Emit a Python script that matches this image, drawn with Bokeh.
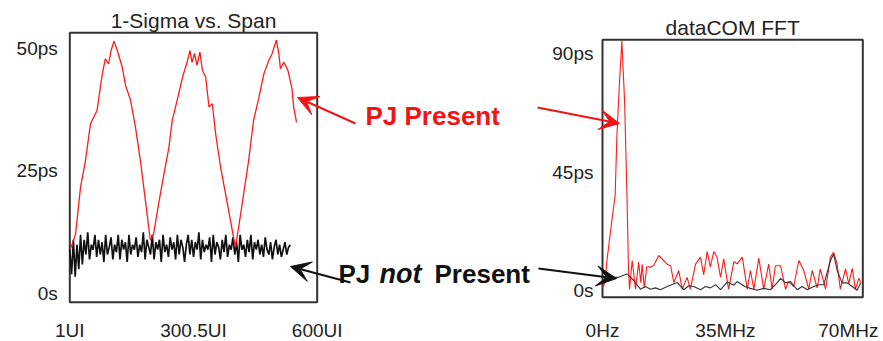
from bokeh.plotting import figure
from bokeh.models import Range1d, Label, Arrow, VeeHead
from bokeh.embed import file_html
from bokeh.resources import INLINE
from bokeh.core.properties import value
import numpy as np

# ---------------- 1-Sigma vs. Span ----------------
# PJ present: sigma (ps) against span (UI)
span_pj_ui = [3, 15, 27, 39, 51, 67, 79, 87, 95, 101, 108, 116, 128, 136, 148,
              160, 172, 184, 196, 204, 216, 229, 241, 249, 261, 274, 285, 292,
              297, 303, 309, 316, 322, 330, 338, 346, 354, 366, 378, 390, 402,
              410, 422, 434, 446, 459, 471, 483, 491, 501, 507, 511, 519, 529,
              539, 543, 550]
sigma_pj = [9.2, 12.2, 21.7, 27.1, 34.6, 37.3, 44.4, 47.8, 46.8, 49.5, 51.4,
            49.5, 46.1, 42.4, 39.4, 33.9, 27.1, 19.0, 10.9, 12.2, 18.3, 24.4,
            29.8, 35.3, 39.4, 44.1, 47.1, 49.5, 47.1, 48.9, 46.5, 49.2, 45.5,
            44.1, 38.0, 38.7, 32.6, 25.8, 20.4, 14.9, 9.5, 13.6, 20.4, 27.1,
            35.3, 40.0, 44.8, 47.5, 48.9, 51.6, 48.9, 45.8, 47.1, 45.5, 41.7,
            38.0, 34.9]

# PJ not present: sigma (ps), evenly sampled from 1UI to 535UI
sigma_nopj = [9, 4, 11, 3.5, 10, 5, 12, 6, 11, 8, 12.5, 7, 10, 9, 12, 7.5, 11,
              8, 10.5, 6.5, 12, 8, 9.5, 11.5, 7, 10, 8.5, 12, 7, 11, 9, 10.5,
              6.5, 12, 8, 10, 9, 11.5, 7.5, 10, 8.5, 12.5, 7, 11, 9.5, 8, 12,
              7, 10.5, 9, 11, 6.5, 12, 8.5, 10, 7.5, 11.5, 9, 10.5, 7, 12, 8,
              11, 9.5, 6.5, 10, 12, 8, 11, 7.5, 10.5, 9, 12.5, 7, 11, 8.5, 10,
              9, 11.5, 6.5, 12, 8, 10.5, 9.5, 7, 11, 8.5, 12, 7.5, 10, 9, 11.5,
              8, 10.5, 6.5, 12, 9, 10, 7.5, 11, 8.5, 12, 7, 10.5, 9, 11, 8, 10,
              7.5, 11.5, 9, 8, 10.5, 7, 9.5, 11, 8, 10, 7.5, 9, 10.5, 8, 9.5, 10]
span_nopj_ui = np.linspace(1, 535, len(sigma_nopj))

span_ticks = [1, 300.5, 600]
span_tick_labels = ["1UI", "300.5UI", "600UI"]
sigma_ticks = [0, 25, 50]
sigma_tick_labels = ["0s", "25ps", "50ps"]

# ---------------- dataCOM FFT ----------------
fft_pj_mhz = [0.0, 0.8, 1.2, 2.6, 3.6, 4.1, 4.8, 5.5, 6.3, 7.0, 7.4, 7.7,
              8.45, 9.4, 10.3, 10.9, 11.3, 11.9, 12.6, 13.7, 14.6, 16.0, 17.4,
              18.4, 19.4, 20.3, 21.7, 22.7, 24.1, 25.0, 26.5, 27.9, 28.8, 29.8,
              30.7, 31.7, 32.6, 33.6, 34.5, 35.9, 37.4, 38.3, 39.8, 41.2, 42.1,
              43.1, 44.5, 45.9, 47.3, 48.3, 49.2, 50.7, 52.1, 53.0, 54.4, 55.9,
              57.3, 58.7, 59.7, 61.1, 62.0, 63.5, 64.9, 65.8, 66.8, 67.7, 69.2,
              70.1, 71.1, 72.0, 73.0, 73.5]
fft_pj = [1.0, 3.2, 10.6, 26, 36, 59, 78, 95, 71.6, 33.6, 8.4, 0.5,
          11.4, 0.5, 10.8, 3, 10, 1, 9, 8.9, 9.5, 13.3, 11.4,
          10, 9.4, 3, 7.6, 0.5, 5, 0.5, 10, 12.7, 6, 14.8,
          9, 14.8, 12.7, 5, 12, 0.5, 11, 10.1, 12.7, 0.5, 7.6,
          0.5, 12.3, 0.5, 10, 0.5, 9.4, 9.4, 0.5, 3.4, 1.5, 11.4,
          7.6, 0.5, 7.6, 1, 8.2, 0.5, 12.7, 14.6, 10, 0.5, 8.2,
          2.5, 8.4, 0.5, 4.7, 3]

fft_nopj_mhz = [0, 1.5, 3, 4.5, 7.0, 8.9, 10.8, 12.2, 13.7, 15.1, 16.5, 18.4,
                21.3, 23.1, 24.6, 26.0, 27.9, 29.3, 30.7, 32.2, 33.6, 35.5,
                37.4, 38.3, 40.5, 42.1, 44.0, 45.9, 47.8, 49.7, 50.7, 52.1,
                53.5, 55.4, 56.8, 58.3, 60.1, 61.6, 63.0, 64.9, 65.8, 66.8,
                68.2, 69.6, 71.1, 72.5, 73.5]
fft_nopj = [2.5, 4, 5, 5, 6.3, 3.8, 0.5, 1.5, 0.5, 1.0, 0.3, 1.5,
            3, 0.3, 1.8, 1.5, 0.3, 1.5, 1.0, 2.2, 0.3, 3.2,
            2.0, 3.4, 1.5, 0.8, 0.1, 0.8, 0.3, 2.9, 4.6, 2.9,
            3.4, 0.3, 1.5, 0.3, 1.5, 2.2, 2.2, 11.4, 13.8, 7.6,
            2.9, 2.9, 1.5, 0.1, 2.9]

fft_freq_ticks = [0, 35, 70]
fft_freq_labels = ["0Hz", "35MHz", "70MHz"]
fft_amp_ticks = [0, 45, 90]
fft_amp_labels = ["0s", "45ps", "90ps"]

RED = "#ff1a1a"
TEXT_RED = "#f01414"
FONT_NAME = "Liberation Sans"
FONT = value(FONT_NAME)
PAGE_BOTTOM = 340  # bottom edge of the x tick labels, page pixels

# Page canvas in pixel units (y grows downward)
p = figure(width=883, height=341, x_range=Range1d(0, 883), y_range=Range1d(341, 0),
           output_backend="svg", toolbar_location=None, min_border=0,
           x_axis_location=None, y_axis_location=None, outline_line_color=None,
           background_fill_color="white", border_fill_color="white")
p.grid.visible = False


def panel(x_src, y_src, x_tgt, y_tgt, title, xt, xtl, yt, ytl, ylab_off):
    sub = p.subplot(x_source=Range1d(*x_src), y_source=Range1d(*y_src),
                    x_target=Range1d(*x_tgt), y_target=Range1d(*y_tgt))
    sub.quad(left=[x_src[0]], right=[x_src[1]], bottom=[y_src[0]], top=[y_src[1]],
             fill_color=None, line_color="#333333", line_width=2)
    sub.text(x=[(x_src[0] + x_src[1]) / 2], y=[y_src[1]], text=[title],
             y_offset=-1, text_align="center", text_baseline="bottom",
             text_font=FONT, text_font_size="21px", text_color="#222222")
    sub.text(x=xt, y=[y_src[0]] * len(xt), text=xtl,
             y_offset=PAGE_BOTTOM - y_tgt[0],
             text_align="center", text_baseline="bottom",
             text_font=FONT, text_font_size="19px", text_color="#222222")
    sub.text(x=[x_src[0]] * len(yt), y=yt, text=ytl, x_offset=ylab_off,
             text_align="right", text_baseline="middle",
             text_font=FONT, text_font_size="19px", text_color="#222222")
    return sub


left = panel((1, 600), (-1.7, 53.1), (69.3, 316.7), (301.7, 32.3),
             "1-Sigma vs. Span", span_ticks, span_tick_labels,
             sigma_ticks, sigma_tick_labels, -12)
left.line(span_nopj_ui, sigma_nopj, line_color="#111111", line_width=1.7)
left.line(span_pj_ui, sigma_pj, line_color=RED, line_width=1.3)

right = panel((0, 74.1), (-2.55, 95.3), (602, 862.3), (296.7, 39.3),
              "dataCOM FFT", fft_freq_ticks, fft_freq_labels,
              fft_amp_ticks, fft_amp_labels, -9)
right.line(fft_pj_mhz, fft_pj, line_color=RED, line_width=1.1)
right.line(fft_nopj_mhz, fft_nopj, line_color="#333333", line_width=1.1)

# Callouts
p.add_layout(Label(x=365, y=115, text="PJ Present", text_color=TEXT_RED,
                   text_font=FONT_NAME, text_font_size="26px", text_font_style="bold",
                   text_baseline="alphabetic"))
p.add_layout(Label(x=338, y=273, text="PJ", text_color="#111111",
                   text_font=FONT_NAME, text_font_size="26px", text_font_style="bold",
                   text_baseline="alphabetic"))
p.add_layout(Label(x=379, y=273, text="not", text_color="#111111",
                   text_font=FONT_NAME, text_font_size="27px", text_font_style="bold italic",
                   text_baseline="alphabetic"))
p.add_layout(Label(x=434, y=273, text="Present", text_color="#111111",
                   text_font=FONT_NAME, text_font_size="26px", text_font_style="bold",
                   text_baseline="alphabetic"))

for (xs, ys, xe, ye, col) in [(355, 123, 297, 97, TEXT_RED),
                              (537, 107, 619, 123, TEXT_RED),
                              (350, 282, 290, 266, "#111111"),
                              (538, 268, 616, 278, "#111111")]:
    p.add_layout(Arrow(x_start=xs, y_start=ys, x_end=xe, y_end=ye,
                       line_color=col, line_width=2,
                       end=VeeHead(size=20, fill_color=col, line_color=col, line_width=1)))

open("out.html", "w").write(file_html(p, INLINE))
